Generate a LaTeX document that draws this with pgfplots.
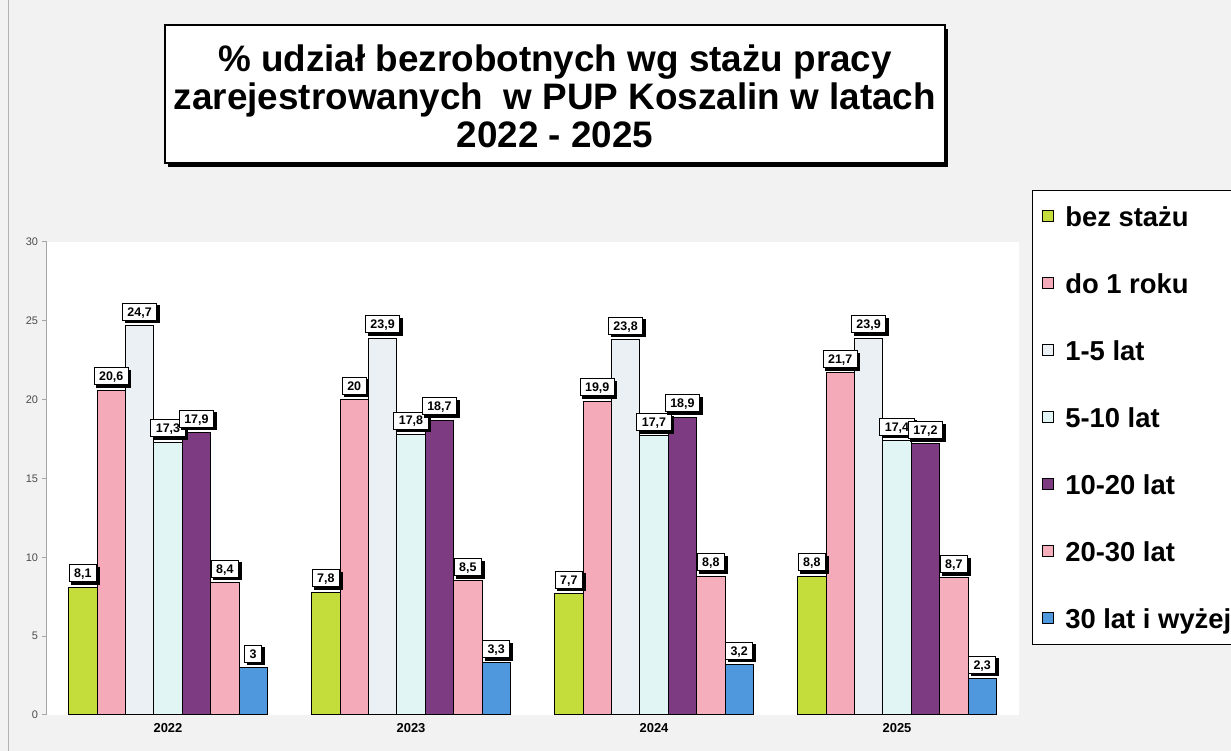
\documentclass[border=0pt]{standalone}
\usepackage{fontspec}
\setmainfont{Liberation Sans}
\usepackage{pgfplots}
\pgfplotsset{compat=1.18}
\usetikzlibrary{shadows}
\definecolor{bgcol}{HTML}{F2F2F2}
\definecolor{cGreen}{HTML}{C5DD3B}
\definecolor{cPink}{HTML}{F4AAB8}
\definecolor{cGray}{HTML}{EBF0F4}
\definecolor{cCyan}{HTML}{E2F5F5}
\definecolor{cPurple}{HTML}{7D3B82}
\definecolor{cPink2}{HTML}{F5AEBB}
\definecolor{cBlue}{HTML}{4F98DD}
\newcommand\ls{\rule[-7bp]{0pt}{28bp}}
\begin{document}
\begin{tikzpicture}[x=1bp,y=1bp]
\path[use as bounding box] (0,0) rectangle (1231,751);
\clip (0,0) rectangle (1231,751);
\fill[bgcol] (0,0) rectangle (1231,751);
\draw[gray!60, line width=1bp] (8,0) -- (8,751);
% title box
\node[draw=black, line width=1.3bp, fill=white, minimum width=780bp, minimum height=138bp, inner sep=0pt,
  drop shadow={shadow xshift=3bp, shadow yshift=-4bp, opacity=1, fill=black}] at (555,657) {};
\node[align=center, font=\bfseries\fontsize{37}{38}\selectfont, inner sep=0pt] at (555,655)
  {\% udział bezrobotnych wg stażu pracy\\zarejestrowanych \ w PUP Koszalin w latach\\2022 - 2025};
\begin{axis}[
  at={(46.5bp,36bp)}, anchor=south west,
  scale only axis, width=972bp, height=473bp,
  xmin=-0.5, xmax=3.5, ymin=0, ymax=30,
  ybar=0pt, bar width=28.4bp,
  xtick={0,1,2,3}, xticklabels={2022,2023,2024,2025},
  ytick={0,5,...,30},
  axis lines*=left,
  x axis line style={draw=none},
  y axis line style={-, draw=gray!70, line width=1bp},
  xtick style={draw=none},
  ytick style={draw=gray!70, line width=1bp},
  tick align=outside, major tick length=5bp,
  axis background/.style={fill=white},
  yticklabel style={font=\fontsize{11}{11}\selectfont, text=gray!60!black},
  xticklabel style={font=\bfseries\fontsize{13}{13}\selectfont},
  /pgf/number format/.cd, use comma, assume math mode=true, /pgfplots/.cd,
  nodes near coords,
  every node near coord/.append style={font=\bfseries\fontsize{12.5}{12.5}\selectfont, text=black,
     draw=black, line width=0.8bp, fill=white, inner xsep=5bp, inner ysep=4bp,
     text height=9bp, text depth=0bp, anchor=south, yshift=5bp,
     drop shadow={shadow xshift=2.5bp, shadow yshift=-2.5bp, opacity=1, fill=black}},
  legend style={at={(1.0139,1.1099)}, anchor=north west, draw=black, line width=1bp, fill=white,
     font=\bfseries\fontsize{27.5}{27.5}\selectfont, inner xsep=9bp, inner ysep=13bp,
     row sep=40.5bp, column sep=10bp},
  legend cell align=left,
  legend image code/.code={\draw[#1, draw=black, line width=0.8bp] (0bp,-5bp) rectangle (11bp,6bp);},
]
\addplot[fill=cGreen, draw=black, line width=1bp] coordinates {(0,8.1) (1,7.8) (2,7.7) (3,8.8)};
\addlegendentry{\ls bez stażu}
\addplot[fill=cPink, draw=black, line width=1bp] coordinates {(0,20.6) (1,20) (2,19.9) (3,21.7)};
\addlegendentry{\ls do 1 roku}
\addplot[fill=cGray, draw=black, line width=1bp] coordinates {(0,24.7) (1,23.9) (2,23.8) (3,23.9)};
\addlegendentry{\ls 1-5 lat}
\addplot[fill=cCyan, draw=black, line width=1bp] coordinates {(0,17.3) (1,17.8) (2,17.7) (3,17.4)};
\addlegendentry{\ls 5-10 lat}
\addplot[fill=cPurple, draw=black, line width=1bp] coordinates {(0,17.9) (1,18.7) (2,18.9) (3,17.2)};
\addlegendentry{\ls 10-20 lat}
\addplot[fill=cPink2, draw=black, line width=1bp] coordinates {(0,8.4) (1,8.5) (2,8.8) (3,8.7)};
\addlegendentry{\ls 20-30 lat}
\addplot[fill=cBlue, draw=black, line width=1bp] coordinates {(0,3) (1,3.3) (2,3.2) (3,2.3)};
\addlegendentry{\ls 30 lat i wyżej}
\end{axis}
\end{tikzpicture}
\end{document}
